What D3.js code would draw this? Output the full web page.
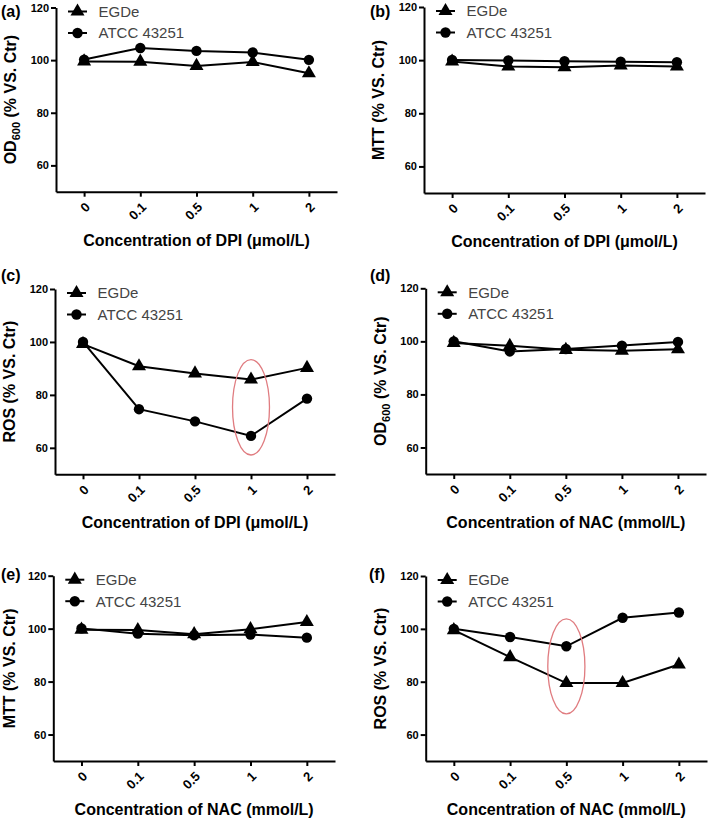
<!DOCTYPE html>
<html>
<head>
<meta charset="utf-8">
<script src="https://cdn.jsdelivr.net/npm/d3@7"></script>
<style>
  html, body { margin: 0; padding: 0; background: #fff; }
  svg { display: block; font-family: "Liberation Sans", Arial, Helvetica, sans-serif; }
</style>
</head>
<body>
<svg id="chart" width="709" height="819"></svg>
<script>
// ---------------- data ----------------
const categories = ["0", "0.1", "0.5", "1", "2"];
const yTickValues = [60, 80, 100, 120];
const seriesNames = ["EGDe", "ATCC 43251"];

const egdeA = [99.5, 99.4, 97.8, 99.3, 95.0];
const atccA = [100.2, 104.6, 103.5, 102.9, 100.1];
const egdeB = [99.5, 97.6, 97.3, 98.0, 97.6];
const atccB = [100.1, 99.9, 99.6, 99.4, 99.2];
const egdeC = [99.2, 90.8, 88.1, 85.8, 90.2];
const atccC = [100.0, 74.6, 70.0, 64.5, 78.6];
const egdeD = [99.4, 98.3, 96.8, 96.5, 97.0];
const atccD = [100.0, 96.2, 97.1, 98.4, 99.8];
const egdeE = [99.6, 99.5, 97.9, 99.8, 102.5];
const atccE = [100.1, 98.1, 97.5, 97.8, 96.6];
const egdeF = [99.5, 89.3, 79.5, 79.5, 86.5];
const atccF = [100.0, 96.9, 93.4, 104.2, 106.2];

const panelLabels = ["(a)", "(b)", "(c)", "(d)", "(e)", "(f)"];
const yTitles = ["OD600", "MTT", "ROS", "OD600", "MTT", "ROS"];
const xTitles = [
  "Concentration of DPI (μmol/L)",
  "Concentration of DPI (μmol/L)",
  "Concentration of DPI (μmol/L)",
  "Concentration of NAC (mmol/L)",
  "Concentration of NAC (mmol/L)",
  "Concentration of NAC (mmol/L)"
];
// highlighted points (red ellipses): panel index, category, centre value, half-height in value units
const highlights = [
  { panel: 2, cat: "1", value: 75.3, halfRange: 18 },
  { panel: 5, cat: "0.5", value: 85.8, halfRange: 18 }
];

// ---------------- layout ----------------
const layout = [
  { x0: 56,    x1: 337, yTop: 7.5, yBot: 191.7, lx: 1,   ly: 17 },
  { x0: 424,   x1: 705, yTop: 7,   yBot: 193,   lx: 370, ly: 17 },
  { x0: 55,    x1: 335, yTop: 289, yBot: 474.3, lx: 1,   ly: 281 },
  { x0: 425.7, x1: 706, yTop: 288.3, yBot: 474, lx: 370, ly: 281 },
  { x0: 53.3,  x1: 335, yTop: 575.7, yBot: 761, lx: 1,   ly: 580 },
  { x0: 425.7, x1: 707, yTop: 576, yBot: 761,   lx: 369, ly: 580 }
];

const seriesData = [
  [egdeA, atccA], [egdeB, atccB], [egdeC, atccC],
  [egdeD, atccD], [egdeE, atccE], [egdeF, atccF]
];

const svg = d3.select("#chart");
const symbols = [d3.symbolTriangle, d3.symbolCircle];
const symbolSizes = [85, 85];

layout.forEach((L, i) => {
  const g = svg.append("g");
  const x = d3.scalePoint().domain(categories).range([L.x0, L.x1]).padding(0.5);
  const y = d3.scaleLinear().domain([50, 120]).range([L.yBot, L.yTop]);

  // y axis
  const yAxis = g.append("g").attr("transform", `translate(${L.x0},0)`)
    .call(d3.axisLeft(y).tickValues(yTickValues).tickSize(5).tickPadding(2).tickSizeOuter(0));
  yAxis.select(".domain").attr("stroke", "#000").attr("stroke-width", 2);
  yAxis.selectAll(".tick line").attr("stroke", "#000").attr("stroke-width", 2);
  yAxis.selectAll(".tick text").attr("font-size", 11).attr("font-weight", "bold").attr("fill", "#000");

  // x axis
  const xAxis = g.append("g").attr("transform", `translate(0,${L.yBot})`)
    .call(d3.axisBottom(x).tickSize(5).tickSizeOuter(0));
  xAxis.select(".domain").attr("stroke", "#000").attr("stroke-width", 2);
  xAxis.selectAll(".tick line").attr("stroke", "#000").attr("stroke-width", 2);
  xAxis.selectAll(".tick text")
    .attr("font-size", 13).attr("font-weight", "bold").attr("fill", "#000")
    .attr("text-anchor", "end")
    .attr("y", 0).attr("dy", "0.35em")
    .attr("transform", "translate(3,13) rotate(-45)");

  // x title
  g.append("text")
    .attr("x", (L.x0 + L.x1) / 2).attr("y", L.yBot + 54)
    .attr("text-anchor", "middle").attr("font-size", 16).attr("font-weight", "bold")
    .text(xTitles[i]);

  // y title
  const yt = g.append("text")
    .attr("transform", `translate(${Math.max(L.x0 - 40, 15)},${(L.yTop + L.yBot) / 2}) rotate(-90)`)
    .attr("text-anchor", "middle").attr("font-size", 16).attr("font-weight", "bold");
  if (yTitles[i] === "OD600") {
    yt.append("tspan").text("OD");
    yt.append("tspan").attr("font-size", 11).attr("dy", 4).text("600");
    yt.append("tspan").attr("dy", -4).text(" (% VS. Ctr)");
  } else {
    yt.text(yTitles[i] + " (% VS. Ctr)");
  }

  // panel label
  g.append("text").attr("x", L.lx).attr("y", L.ly)
    .attr("font-size", 16).attr("font-weight", "bold").text(panelLabels[i]);

  // lines and markers
  const line = d3.line().x((d, k) => x(categories[k])).y(d => y(d));
  seriesData[i].forEach((vals, s) => {
    g.append("path").datum(vals).attr("d", line)
      .attr("fill", "none").attr("stroke", "#000").attr("stroke-width", 2);
    g.selectAll(null).data(vals).enter().append("path")
      .attr("d", d3.symbol().type(symbols[s]).size(symbolSizes[s]))
      .attr("transform", (d, k) => `translate(${x(categories[k])},${y(d)})`)
      .attr("fill", "#000");
  });

  // legend
  seriesNames.forEach((name, s) => {
    const ly = L.yTop + 4 + s * 21.5;
    const lg = g.append("g");
    lg.append("line").attr("x1", L.x0 + 12).attr("x2", L.x0 + 31)
      .attr("y1", ly).attr("y2", ly).attr("stroke", "#000").attr("stroke-width", 2);
    lg.append("path").attr("d", d3.symbol().type(symbols[s]).size(symbolSizes[s]))
      .attr("transform", `translate(${L.x0 + 21.5},${ly})`).attr("fill", "#000");
    lg.append("text").attr("x", L.x0 + 42.5).attr("y", ly).attr("dy", "0.36em")
      .attr("font-size", 15).attr("fill", "#444").text(name);
  });

  // highlight ellipses
  highlights.filter(h => h.panel === i).forEach(h => {
    g.append("ellipse")
      .attr("cx", x(h.cat)).attr("cy", y(h.value))
      .attr("rx", x.step() * 0.33)
      .attr("ry", Math.abs(y(h.value + h.halfRange) - y(h.value)))
      .attr("fill", "none").attr("stroke", "#e07c80").attr("stroke-width", 1.3);
  });
});
</script>
</body>
</html>
